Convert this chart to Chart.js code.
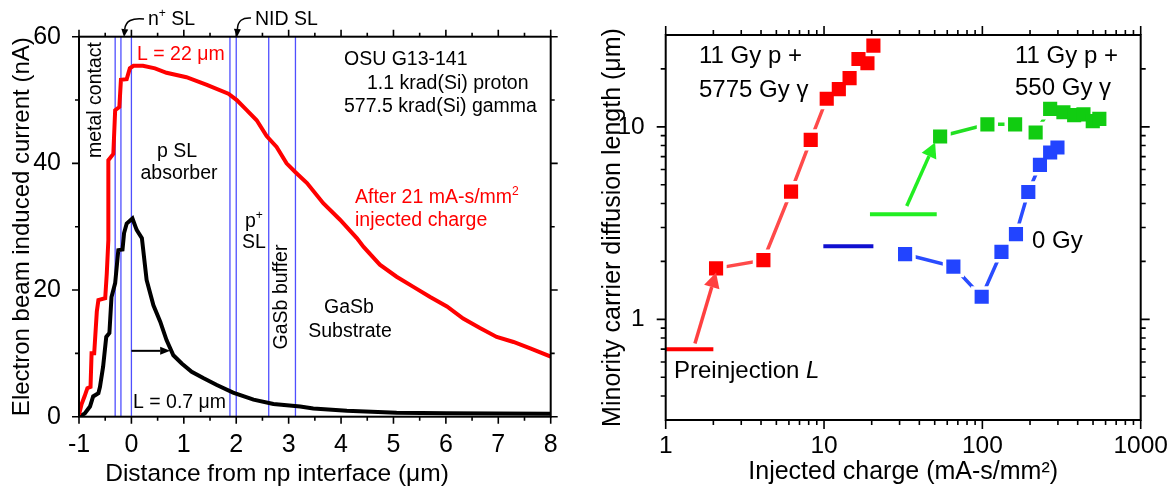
<!DOCTYPE html>
<html><head><meta charset="utf-8">
<script src="https://cdn.jsdelivr.net/npm/chart.js@4.4.0/dist/chart.umd.min.js"></script>
<style>
html,body{margin:0;padding:0;background:#fff;}
#wrap{position:relative;width:1173px;height:490px;overflow:hidden;background:#fff;}
canvas{position:absolute;top:0;}
#c1{left:0;} #c2{left:580px;}
</style></head><body>
<div id="wrap"><canvas id="c1" width="580" height="490"></canvas><canvas id="c2" width="593" height="490"></canvas></div>
<script>
const FONT = '"Liberation Sans", Arial, Helvetica, sans-serif';

// ---------- Left panel data ----------
const xTicksLeft = [-1, 0, 1, 2, 3, 4, 5, 6, 7, 8];
const yTicksLeft = [0, 20, 40, 60];
const layerBoundaries = [-0.31, -0.20, 0, 1.88, 2.0, 2.62, 3.13];
const afterX = [-1, -0.95, -0.89, -0.84, -0.78, -0.76, -0.71, -0.66, -0.63, -0.50, -0.47, -0.44, -0.44, -0.345, -0.31, -0.23, -0.20, -0.09, -0.03, 0.04, 0.22, 0.45, 0.67, 1.05, 1.44, 1.85, 2.01, 2.2, 2.39, 2.58, 2.77, 2.96, 3.13, 3.35, 3.66, 3.98, 4.3, 4.43, 4.74, 5.06, 5.38, 5.70, 6.02, 6.33, 6.65, 6.97, 7.29, 7.61, 8.0];
const afterY = [0.3, 2.0, 3.3, 4.5, 4.7, 10.0, 10.0, 16.6, 18.4, 18.7, 22.6, 27.9, 40.5, 41.5, 48.4, 48.9, 53.2, 53.3, 55.0, 55.4, 55.4, 55.0, 54.3, 53.6, 52.4, 51.0, 50.0, 48.4, 46.8, 44.3, 42.6, 40.0, 38.6, 36.9, 33.7, 31.1, 28.2, 26.8, 24.0, 22.1, 20.5, 18.9, 17.4, 15.5, 14.0, 12.6, 11.8, 10.8, 9.5];
const beforeX = [-1, -0.89, -0.79, -0.73, -0.63, -0.60, -0.54, -0.48, -0.42, -0.38, -0.31, -0.25, -0.17, -0.14, -0.09, 0.02, 0.10, 0.20, 0.29, 0.42, 0.55, 0.67, 0.80, 0.96, 1.15, 1.37, 1.63, 1.94, 2.33, 2.71, 3.22, 3.47, 4.11, 5.06, 6.02, 6.97, 8.0];
const beforeY = [0, 0.5, 1.6, 3.2, 3.7, 4.7, 7.9, 12.6, 13.2, 18.9, 21.1, 26.3, 26.4, 29.0, 30.5, 31.3, 29.5, 28.2, 21.6, 17.6, 15.0, 12.1, 9.7, 8.4, 7.1, 6.1, 5.0, 3.8, 2.7, 2.0, 1.6, 1.3, 0.95, 0.63, 0.53, 0.5, 0.45];

// ---------- Right panel data ----------
const xTicksRight = [1, 10, 100, 1000];
const yTicksRight = [1, 10];
const charge5775 = [2.08, 4.14, 6.19, 8.24, 10.4, 12.4, 14.5, 16.5, 18.8, 20.5];
const L5775 = [1.84, 2.03, 4.61, 8.56, 14.0, 15.7, 17.9, 22.5, 21.4, 26.4];
const charge550 = [54.1, 107.6, 161, 217, 268, 325, 380, 435, 498, 548];
const L550 = [8.91, 10.3, 10.3, 9.35, 12.4, 11.9, 11.5, 11.6, 10.7, 11.0];
const charge0 = [32.5, 65.6, 99, 132, 163, 195, 231, 268, 298];
const L0 = [2.18, 1.88, 1.31, 2.24, 2.77, 4.59, 6.35, 7.36, 7.81];
const preCharge5775 = [1, 2.0];   const preL5775 = 0.70;
const preCharge0 = [9.9, 20.5];   const preL0 = 2.4;
const preCharge550 = [19.5, 51.5]; const preL550 = 3.52;

Chart.defaults.font.family = FONT;
Chart.defaults.color = '#000';

const zip = (xs, ys) => xs.map((x, i) => ({x, y: ys[i]}));
const hline = (xs, y) => xs.map(x => ({x, y}));

function drawArrow(ctx, x0, y0, x1, y1, w, hl, hw, color) {
  const a = Math.atan2(y1 - y0, x1 - x0);
  const bx = x1 - hl * Math.cos(a), by = y1 - hl * Math.sin(a);
  ctx.save();
  ctx.strokeStyle = color; ctx.fillStyle = color; ctx.lineWidth = w; ctx.lineCap = 'butt';
  ctx.beginPath(); ctx.moveTo(x0, y0); ctx.lineTo(bx, by); ctx.stroke();
  ctx.beginPath(); ctx.moveTo(x1, y1);
  ctx.lineTo(bx + hw * Math.sin(a), by - hw * Math.cos(a));
  ctx.lineTo(bx - hw * Math.sin(a), by + hw * Math.cos(a));
  ctx.closePath(); ctx.fill();
  ctx.restore();
}
function curvedArrow(ctx, x0, y0, cx, cy, x1, y1) {
  const a = Math.atan2(y1 - cy, x1 - cx);
  const hl = 8, hw = 3.5;
  const bx = x1 - hl * Math.cos(a), by = y1 - hl * Math.sin(a);
  ctx.save();
  ctx.strokeStyle = '#000'; ctx.fillStyle = '#000'; ctx.lineWidth = 1.5;
  ctx.beginPath(); ctx.moveTo(x0, y0); ctx.quadraticCurveTo(cx, cy, bx, by); ctx.stroke();
  ctx.beginPath(); ctx.moveTo(x1, y1);
  ctx.lineTo(bx + hw * Math.sin(a), by - hw * Math.cos(a));
  ctx.lineTo(bx - hw * Math.sin(a), by + hw * Math.cos(a));
  ctx.closePath(); ctx.fill();
  ctx.restore();
}
function rich(ctx, parts, x, y, size, color, align) {
  ctx.save();
  ctx.fillStyle = color || '#000';
  ctx.textBaseline = 'alphabetic'; ctx.textAlign = 'left';
  let total = 0;
  const ws = parts.map(p => {
    ctx.font = (p.it ? 'italic ' : '') + (p.sup ? size * 0.62 : size) + 'px ' + FONT;
    const w = ctx.measureText(p.t).width; total += w; return w;
  });
  let cx = align === 'center' ? x - total / 2 : x;
  parts.forEach((p, i) => {
    ctx.font = (p.it ? 'italic ' : '') + (p.sup ? size * 0.62 : size) + 'px ' + FONT;
    ctx.fillText(p.t, cx, p.sup ? y - size * 0.42 : y);
    cx += ws[i];
  });
  ctx.restore();
}
function rotText(ctx, t, x, y, size) {
  ctx.save();
  ctx.translate(x, y); ctx.rotate(-Math.PI / 2);
  ctx.font = size + 'px ' + FONT; ctx.fillStyle = '#000';
  ctx.textAlign = 'center'; ctx.textBaseline = 'middle';
  ctx.fillText(t, 0, 0);
  ctx.restore();
}

const framePlugin = {
  id: 'frame',
  afterDatasetsDraw(chart, args, o) {
    const ctx = chart.ctx, {left, right, top, bottom} = chart.chartArea;
    const xs = chart.scales.x, ys = chart.scales.y;
    ctx.save();
    ctx.strokeStyle = '#000'; ctx.lineWidth = 2;
    ctx.strokeRect(left, top, right - left, bottom - top);
    ctx.lineWidth = 1.6;
    ctx.beginPath();
    const xt = (v, len) => { const p = xs.getPixelForValue(v); ctx.moveTo(p, bottom); ctx.lineTo(p, bottom + len); ctx.moveTo(p, top); ctx.lineTo(p, top - len); };
    const yt = (v, len) => { const p = ys.getPixelForValue(v); ctx.moveTo(left, p); ctx.lineTo(left - len, p); ctx.moveTo(right, p); ctx.lineTo(right + len, p); };
    o.xMajor.forEach(v => xt(v, o.maj)); o.xMinor.forEach(v => xt(v, o.min));
    o.yMajor.forEach(v => yt(v, o.maj)); o.yMinor.forEach(v => yt(v, o.min));
    ctx.stroke();
    ctx.restore();
  }
};

// ---------- Left chart ----------
const leftDatasets = [
  {data: zip(afterX, afterY), borderColor: '#ff0000', borderWidth: 4, pointRadius: 0, tension: 0},
  {data: zip(beforeX, beforeY), borderColor: '#000000', borderWidth: 4, pointRadius: 0, tension: 0},
  ...layerBoundaries.map(b => ({data: [{x: b, y: 0}, {x: b, y: 60}], borderColor: '#4f4fff', borderWidth: 1.3, pointRadius: 0}))
];

const leftAnno = {
  id: 'leftAnno',
  afterDatasetsDraw(chart) {
    const ctx = chart.ctx, xs = chart.scales.x, ys = chart.scales.y;
    const S = 19.5;
    rich(ctx, [{t: 'L = 22 μm'}], 137, 60, S, '#ff0000');
    rich(ctx, [{t: 'OSU G13-141'}], 344, 65, S);
    rich(ctx, [{t: '1.1 krad(Si) proton'}], 367, 89, S);
    rich(ctx, [{t: '577.5 krad(Si) gamma'}], 344, 112, S);
    rich(ctx, [{t: 'p SL'}], 177, 157, S, '#000', 'center');
    rich(ctx, [{t: 'absorber'}], 179, 179, S, '#000', 'center');
    rich(ctx, [{t: 'p'}, {t: '+', sup: true}], 245, 227, S);
    rich(ctx, [{t: 'SL'}], 242, 248, S);
    rich(ctx, [{t: 'GaSb'}], 349, 313, S, '#000', 'center');
    rich(ctx, [{t: 'Substrate'}], 350, 337, S, '#000', 'center');
    rich(ctx, [{t: 'After 21 mA-s/mm'}, {t: '2', sup: true}], 355, 203, S, '#ff0000');
    rich(ctx, [{t: 'injected charge'}], 355, 226, S, '#ff0000');
    rich(ctx, [{t: 'L = 0.7 μm'}], 133, 408, S);
    rich(ctx, [{t: 'n'}, {t: '+', sup: true}, {t: ' SL'}], 148, 25, S);
    rich(ctx, [{t: 'NID SL'}], 255, 25, S);
    rotText(ctx, 'metal contact', 96, 100, S);
    rotText(ctx, 'GaSb buffer', 282, 297, S);
    curvedArrow(ctx, 144, 19, 126, 17, 124, 37);
    curvedArrow(ctx, 251, 18, 238, 17, 237, 37);
    drawArrow(ctx, xs.getPixelForValue(0), ys.getPixelForValue(10.4), xs.getPixelForValue(0.74), ys.getPixelForValue(10.4), 2, 10, 4, '#000');
    // x-axis title (offset left of centre, as in the original)
    rich(ctx, [{t: 'Distance from np interface (μm)'}], 277, 481, 24.5, '#000', 'center');
  }
};

new Chart(document.getElementById('c1'), {
  type: 'line',
  data: {datasets: leftDatasets},
  options: {
    responsive: false, animation: false, devicePixelRatio: 1, events: [],
    layout: {padding: {left: 0, right: 29.3, top: 36.7, bottom: 0}},
    plugins: {legend: {display: false}, tooltip: {enabled: false},
      frame: {xMajor: xTicksLeft, xMinor: xTicksLeft.slice(0, -1).map(v => v + 0.5), yMajor: yTicksLeft, yMinor: [10, 30, 50], maj: 7, min: 4}},
    scales: {
      x: {type: 'linear', min: -1, max: 8,
        afterBuildTicks: s => { s.ticks = xTicksLeft.map(v => ({value: v})); },
        afterFit: s => { s.height = 73.3; },
        grid: {display: false}, border: {display: false},
        ticks: {font: {size: 25}, color: '#000', padding: 5, maxRotation: 0, autoSkip: false},
        title: {display: false}},
      y: {type: 'linear', min: 0, max: 60,
        afterBuildTicks: s => { s.ticks = yTicksLeft.map(v => ({value: v})); },
        afterFit: s => { s.width = 79; },
        grid: {display: false}, border: {display: false},
        ticks: {font: {size: 25}, color: '#000', padding: 10},
        title: {display: true, text: 'Electron beam induced current (nA)', font: {size: 24}, color: '#000', padding: {top: 8, bottom: 0}}}
    }
  },
  plugins: [framePlugin, leftAnno]
});

// ---------- Right chart ----------
const sq = (data, color, r) => ({data, showLine: false, pointStyle: 'rect', pointRadius: r, pointBackgroundColor: color, pointBorderWidth: 0, borderColor: color});
const ln = (data, color, w) => ({data, borderColor: color, borderWidth: w, pointRadius: 0, tension: 0});
const d5775 = zip(charge5775, L5775), d550 = zip(charge550, L550), d0 = zip(charge0, L0);
const rightDatasets = [
  sq(d5775, '#ff0000', 10), sq(d550, '#11cc11', 10), sq(d0, '#2244ff', 10),
  sq(d5775, '#ffffff', 15), sq(d550, '#ffffff', 15), sq(d0, '#ffffff', 15),
  ln(d5775, '#ff4a4a', 3.5), ln(d550, '#22e022', 3.5), ln(d0, '#2a4cff', 3.5),
  ln(hline(preCharge5775, preL5775), '#ff0000', 4),
  ln(hline(preCharge0, preL0), '#1010d0', 4),
  ln(hline(preCharge550, preL550), '#22ee22', 4)
];

const rightAnno = {
  id: 'rightAnno',
  afterDatasetsDraw(chart) {
    const ctx = chart.ctx, xs = chart.scales.x, ys = chart.scales.y;
    const S = 24;
    const P = (x, y) => [xs.getPixelForValue(x), ys.getPixelForValue(y)];
    let a = P(1.53, 0.75), b = P(2.08, 1.75);
    drawArrow(ctx, a[0], a[1], b[0], b[1], 3.5, 15, 8, '#ff4040');
    a = P(33.3, 3.88); b = P(50.3, 8.3);
    drawArrow(ctx, a[0], a[1], b[0], b[1], 3.5, 15, 8, '#22ee22');
    rich(ctx, [{t: '11 Gy p +'}], 119, 63, S);
    rich(ctx, [{t: '5775 Gy γ'}], 119, 97, S);
    rich(ctx, [{t: '11 Gy p +'}], 435, 63, S);
    rich(ctx, [{t: '550 Gy γ'}], 435, 95, S);
    rich(ctx, [{t: '0 Gy'}], 452, 248, S);
    rich(ctx, [{t: 'Preinjection '}, {t: 'L', it: true}], 94, 378, S);
  }
};

const xMinorR = [], yMinorR = [];
[1, 10, 100].forEach(d => { for (let k = 2; k <= 9; k++) xMinorR.push(k * d); });
[0.1, 1, 10].forEach(d => { for (let k = 2; k <= 9; k++) { const v = k * d; if (v > 0.3 + 1e-9 && v < 30 - 1e-9 && v !== 1 && v !== 10) yMinorR.push(v); } });

new Chart(document.getElementById('c2'), {
  type: 'line',
  data: {datasets: rightDatasets},
  options: {
    responsive: false, animation: false, devicePixelRatio: 1, events: [],
    layout: {padding: {left: 0, right: 32.3, top: 35, bottom: 0}},
    plugins: {legend: {display: false}, tooltip: {enabled: false},
      frame: {xMajor: xTicksRight, xMinor: xMinorR, yMajor: yTicksRight, yMinor: yMinorR, maj: 9, min: 5}},
    scales: {
      x: {type: 'logarithmic', min: 1, max: 1000,
        afterBuildTicks: s => { s.ticks = xTicksRight.map(v => ({value: v})); },
        afterFit: s => { s.height = 70; },
        grid: {display: false}, border: {display: false},
        ticks: {font: {size: 24.5}, color: '#000', padding: 4, maxRotation: 0, autoSkip: false, callback: v => String(v)},
        title: {display: true, text: 'Injected charge (mA-s/mm²)', font: {size: 25}, color: '#000', padding: {top: 0, bottom: 3}}},
      y: {type: 'logarithmic', min: 0.3, max: 30,
        afterBuildTicks: s => { s.ticks = yTicksRight.map(v => ({value: v})); },
        afterFit: s => { s.width = 85.7; },
        grid: {display: false}, border: {display: false},
        ticks: {font: {size: 24.5}, color: '#000', padding: 13, callback: v => String(v)},
        title: {display: true, text: 'Minority carrier diffusion length (μm)', font: {size: 25}, color: '#000', padding: {top: 18, bottom: 0}}}
    }
  },
  plugins: [framePlugin, rightAnno]
});
</script>
</body></html>
